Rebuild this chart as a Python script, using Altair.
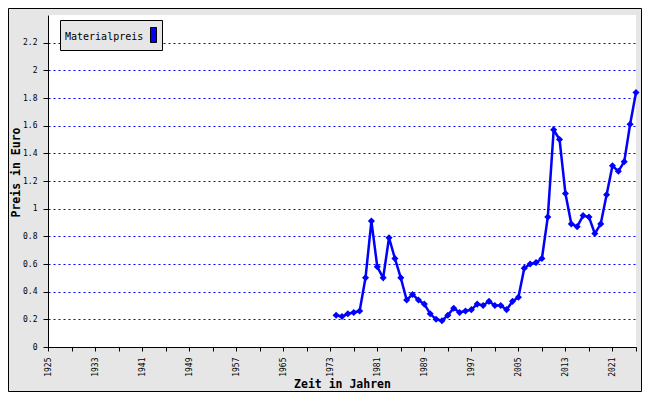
import altair as alt
import pandas as pd

years = list(range(1974, 2026))
prices = [0.23, 0.22, 0.24, 0.25, 0.26, 0.50, 0.91, 0.58, 0.50, 0.79,
          0.64, 0.50, 0.34, 0.38, 0.34, 0.31, 0.24, 0.20, 0.19, 0.23,
          0.28, 0.25, 0.26, 0.27, 0.31, 0.30, 0.33, 0.30, 0.30, 0.27,
          0.33, 0.36, 0.57, 0.60, 0.61, 0.64, 0.94, 1.57, 1.50, 1.11,
          0.89, 0.87, 0.95, 0.94, 0.82, 0.89, 1.10, 1.31, 1.27, 1.34,
          1.61, 1.84]
series_name = ["Materialpreis"]
x_ticks = list(range(1925, 2026, 4))
y_ticks = [0, 0.2, 0.4, 0.6, 0.8, 1, 1.2, 1.4, 1.6, 1.8, 2, 2.2]

df = pd.DataFrame({"Jahr": years, "Preis": prices})
one = pd.DataFrame({"label": series_name})

MONO = "DejaVu Sans Mono"
BLUE = "#0000ff"
GRAY = "#e6e6e6"

x_enc = alt.X(
    "Jahr:Q",
    scale=alt.Scale(domain=[1925, 2025], nice=False, zero=False),
    axis=alt.Axis(
        values=x_ticks, format="d",
        labelExpr="(datum.value - 1925) % 8 == 0 ? datum.label : ''",
        labelAngle=270, labelFont=MONO, labelFontSize=8, labelColor="black",
        labelPadding=6, tickSize=4, tickColor="black", domainColor="black",
        grid=False, title="Zeit in Jahren", titleFont=MONO, titleFontSize=11.5,
        titleFontWeight="bold", titleColor="black", titleY=31, titleBaseline="top",
        labelOverlap=False,
    ),
)
y_enc = alt.Y(
    "Preis:Q",
    scale=alt.Scale(domain=[0, 2.4], nice=False),
    axis=alt.Axis(
        values=y_ticks, format="~g",
        labelFont=MONO, labelFontSize=8, labelColor="black", labelPadding=6,
        tickSize=5, tickColor="black", domainColor="black",
        grid=True, gridColor=BLUE, gridDash=[2, 3], gridWidth=1,
        title="Preis in Euro", titleFont=MONO, titleFontSize=11.5,
        titleFontWeight="bold", titleColor="black", titleAngle=270,
        titleX=-27, titleY=157, titleBaseline="bottom", titleAlign="center",
        labelOverlap=False,
    ),
)

base = alt.Chart(df).encode(x=x_enc, y=y_enc)
line = base.mark_line(color=BLUE, strokeWidth=2.5)
points = base.mark_point(shape="diamond", filled=True, size=50, color=BLUE, opacity=1)

legend_box = alt.Chart(one).mark_rect(fill=GRAY, stroke="black", strokeWidth=1).encode(
    x=alt.value(12.5), x2=alt.value(114.5), y=alt.value(5.5), y2=alt.value(35.5)
)
legend_text = alt.Chart(one).mark_text(
    font=MONO, fontSize=10, align="left", baseline="middle", color="black"
).encode(x=alt.value(17), y=alt.value(21.5), text="label:N")
legend_symbol = alt.Chart(one).mark_rect(fill=BLUE, stroke="black", strokeWidth=1).encode(
    x=alt.value(102.5), x2=alt.value(108.5), y=alt.value(12.5), y2=alt.value(27.5)
)
frame = alt.Chart(one).mark_rect(fill=None, stroke="black", strokeWidth=1).encode(
    x=alt.value(-39.5), x2=alt.value(593.5), y=alt.value(-6.5), y2=alt.value(376.5)
)

chart = alt.layer(line, points, legend_box, legend_text, legend_symbol, frame).properties(
    width=588, height=332,
    autosize=alt.AutoSizeParams(type="none"),
    padding={"left": 40, "top": 7, "right": 6, "bottom": 45},
    background=GRAY,
).configure_view(fill="white", strokeWidth=0)

chart.save("out.html", embed_options={"renderer": "svg", "actions": False})
